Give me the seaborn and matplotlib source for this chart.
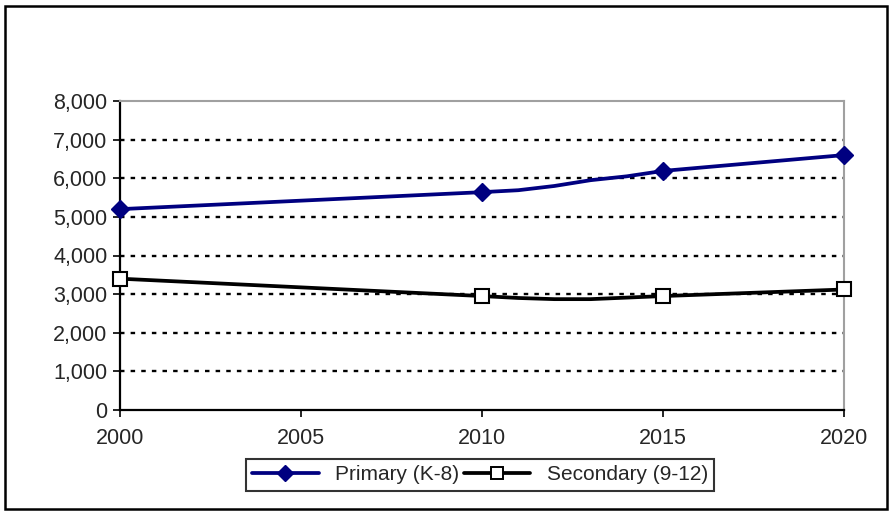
import matplotlib
matplotlib.use("Agg")
import matplotlib.pyplot as plt
from matplotlib.lines import Line2D
from matplotlib.patches import Rectangle
from matplotlib.ticker import FuncFormatter, MultipleLocator
import pandas as pd
import seaborn as sns

# Enrollment projections
primary_years = [2000, 2010, 2011, 2012, 2013, 2014, 2015, 2020]
primary_values = [5200, 5640, 5690, 5800, 5950, 6050, 6190, 6600]
secondary_years = [2000, 2010, 2011, 2012, 2013, 2014, 2015, 2020]
secondary_values = [3400, 2950, 2900, 2870, 2870, 2910, 2950, 3120]
marker_years = [2000, 2010, 2015, 2020]
series_names = ["Primary (K-8)", "Secondary (9-12)"]

primary = pd.DataFrame({"year": primary_years, "value": primary_values})
secondary = pd.DataFrame({"year": secondary_years, "value": secondary_values})

sns.set_theme(style="white")
plt.rcParams["font.family"] = ["Liberation Sans", "DejaVu Sans"]

fig = plt.figure(figsize=(8.9, 5.12), dpi=100)
ax = fig.add_axes([120 / 890, 1 - 410 / 512, (844 - 120) / 890, (410 - 101) / 512])

navy = "#000080"
lw = 2.7

sns.lineplot(data=primary, x="year", y="value", ax=ax, color=navy, lw=lw,
             estimator=None, sort=True, zorder=3)
sns.lineplot(data=secondary, x="year", y="value", ax=ax, color="black", lw=lw,
             estimator=None, sort=True, zorder=3)

pm = primary[primary["year"].isin(marker_years)]
sm = secondary[secondary["year"].isin(marker_years)]
ax.plot(pm["year"], pm["value"], ls="none", marker="D", ms=9,
        mfc=navy, mec=navy, zorder=4, clip_on=False)
ax.plot(sm["year"], sm["value"], ls="none", marker="s", ms=9.5,
        mfc="white", mec="black", mew=1.5, zorder=4, clip_on=False)

ax.set_xlim(2000, 2020)
ax.set_ylim(0, 8000)
ax.xaxis.set_major_locator(MultipleLocator(5))
ax.yaxis.set_major_locator(MultipleLocator(1000))
ax.yaxis.set_major_formatter(FuncFormatter(lambda v, p: f"{int(v):,}"))
ax.set_xlabel("")
ax.set_ylabel("")

# dotted horizontal gridlines
for v in range(1000, 8000, 1000):
    ax.axhline(v, color="black", lw=1.7, ls=(0, (1.9, 2.6)), zorder=1)

for side in ("left", "bottom"):
    ax.spines[side].set_color("black")
    ax.spines[side].set_linewidth(1.6)
for side in ("top", "right"):
    ax.spines[side].set_color("#a0a0a0")
    ax.spines[side].set_linewidth(1.5)

ax.tick_params(axis="both", which="major", direction="out", length=5,
               width=1.2, color="black", labelsize=15.5, pad=4,
               left=True, bottom=True)
ax.tick_params(axis="x", pad=8)

handles = [
    Line2D([], [], color=navy, lw=lw, marker="D", ms=8, mfc=navy, mec=navy),
    Line2D([], [], color="black", lw=lw, marker="s", ms=8, mfc="white",
           mec="black", mew=1.4),
]
leg = fig.legend(handles, series_names, loc="center",
                 bbox_to_anchor=(480 / 890, 1 - 475 / 512), ncol=2,
                 fontsize=15, frameon=True, fancybox=False, shadow=False,
                 handlelength=3.2, handletextpad=0.8, columnspacing=0.2,
                 borderpad=0.3, borderaxespad=0)
leg.get_frame().set_edgecolor("black")
leg.get_frame().set_linewidth(1.5)

# outer chart border
fig.patches.append(Rectangle((5 / 890, 3 / 512), 882 / 890, 503 / 512,
                             transform=fig.transFigure, fill=False,
                             edgecolor="black", lw=1.8))

fig.savefig("out.png", dpi=100, facecolor="white")
